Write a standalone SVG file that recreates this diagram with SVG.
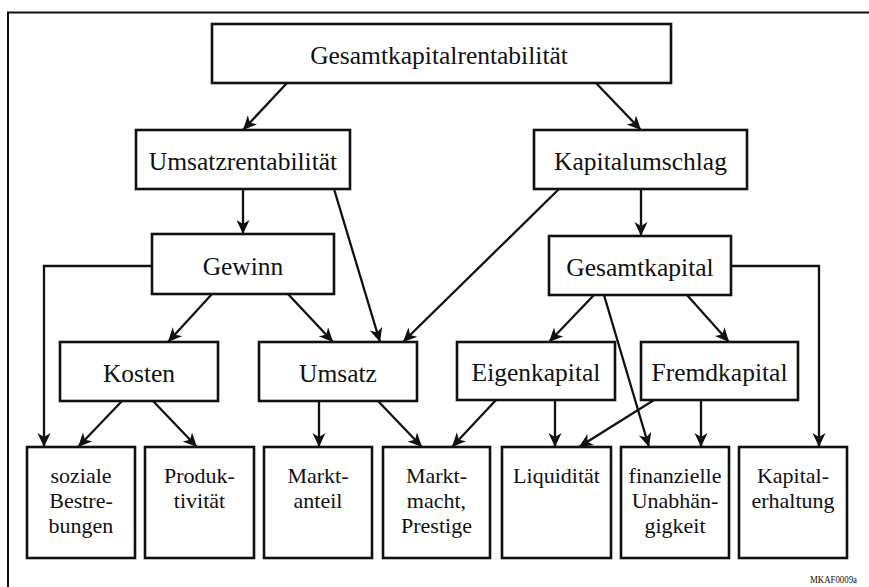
<svg xmlns="http://www.w3.org/2000/svg" width="869" height="587" viewBox="0 0 869 587">
  <style>
    .box { fill: #fff; stroke: #111; stroke-width: 2.6; }
    .lbl { font-family: "Liberation Serif", "DejaVu Serif", "Times New Roman", serif; font-size: 25.5px; fill: #111; text-anchor: middle; }
    .sm { font-family: "Liberation Serif", "DejaVu Serif", "Times New Roman", serif; font-size: 22px; fill: #111; text-anchor: middle; }
    .edge { fill: none; stroke: #111; stroke-width: 2.3; }
    .frame { fill: none; stroke: #111; stroke-width: 2; }
  </style>
  <defs>
    <marker id="arrow" markerUnits="userSpaceOnUse" markerWidth="16" markerHeight="14" refX="14" refY="6.5" orient="auto">
      <path d="M0,0 L14,6.5 L0,13 L4,6.5 Z" fill="#111"/>
    </marker>
  </defs>
  <rect width="869" height="587" fill="#fff"/>

  <!-- page frame: top and left rule only -->
  <path class="frame" d="M8,587 L8,12.5 L869,12.5"/>

  <!-- connectors -->
  <g id="connectors" class="edge">
    <line x1="287" y1="83" x2="243" y2="130" marker-end="url(#arrow)"/>
    <line x1="596" y1="83" x2="641" y2="130" marker-end="url(#arrow)"/>
    <line x1="243" y1="189" x2="243" y2="234" marker-end="url(#arrow)"/>
    <line x1="334" y1="189" x2="380" y2="342" marker-end="url(#arrow)"/>
    <line x1="559" y1="189" x2="403" y2="342" marker-end="url(#arrow)"/>
    <line x1="641" y1="189" x2="641" y2="236" marker-end="url(#arrow)"/>
    <polyline points="152,266 44,266 44,447" marker-end="url(#arrow)"/>
    <line x1="212" y1="294" x2="168" y2="342" marker-end="url(#arrow)"/>
    <line x1="288" y1="294" x2="333" y2="342" marker-end="url(#arrow)"/>
    <polyline points="731,266 819,266 819,447" marker-end="url(#arrow)"/>
    <line x1="594" y1="295" x2="549" y2="342" marker-end="url(#arrow)"/>
    <line x1="687" y1="295" x2="729" y2="342" marker-end="url(#arrow)"/>
    <line x1="604" y1="295" x2="649" y2="447" marker-end="url(#arrow)"/>
    <line x1="122" y1="401" x2="78" y2="447" marker-end="url(#arrow)"/>
    <line x1="153" y1="401" x2="197" y2="447" marker-end="url(#arrow)"/>
    <line x1="319" y1="401" x2="319" y2="447" marker-end="url(#arrow)"/>
    <line x1="378" y1="401" x2="422" y2="447" marker-end="url(#arrow)"/>
    <line x1="496" y1="400" x2="452" y2="447" marker-end="url(#arrow)"/>
    <line x1="555" y1="400" x2="555" y2="447" marker-end="url(#arrow)"/>
    <line x1="654" y1="400" x2="579" y2="447" marker-end="url(#arrow)"/>
    <line x1="701" y1="400" x2="701" y2="447" marker-end="url(#arrow)"/>
  </g>

  <!-- level 0 -->
  <g id="gesamtkapitalrentabilitaet">
    <rect class="box" x="212" y="24" width="459" height="59"/>
    <text class="lbl" x="439" y="64">Gesamtkapitalrentabilität</text>
  </g>

  <!-- level 1 -->
  <g id="umsatzrentabilitaet">
    <rect class="box" x="136" y="130" width="214" height="59"/>
    <text class="lbl" x="243" y="170">Umsatzrentabilität</text>
  </g>
  <g id="kapitalumschlag">
    <rect class="box" x="534" y="130" width="213" height="59"/>
    <text class="lbl" x="640.5" y="170">Kapitalumschlag</text>
  </g>

  <!-- level 2 -->
  <g id="gewinn">
    <rect class="box" x="152" y="234" width="182" height="60"/>
    <text class="lbl" x="243" y="275">Gewinn</text>
  </g>
  <g id="gesamtkapital">
    <rect class="box" x="549" y="236" width="182" height="59"/>
    <text class="lbl" x="640" y="276">Gesamtkapital</text>
  </g>

  <!-- level 3 -->
  <g id="kosten">
    <rect class="box" x="60" y="342" width="158" height="59"/>
    <text class="lbl" x="139" y="382">Kosten</text>
  </g>
  <g id="umsatz">
    <rect class="box" x="259" y="342" width="158" height="59"/>
    <text class="lbl" x="338" y="382">Umsatz</text>
  </g>
  <g id="eigenkapital">
    <rect class="box" x="457" y="342" width="158" height="58"/>
    <text class="lbl" x="536" y="381">Eigenkapital</text>
  </g>
  <g id="fremdkapital">
    <rect class="box" x="641" y="342" width="157" height="58"/>
    <text class="lbl" x="719.5" y="381">Fremdkapital</text>
  </g>

  <!-- level 4: goals -->
  <g id="soziale-bestrebungen">
    <rect class="box" x="27" y="447" width="108" height="111"/>
    <text class="sm" x="81" y="483">soziale</text>
    <text class="sm" x="81" y="508">Bestre-</text>
    <text class="sm" x="81" y="533">bungen</text>
  </g>
  <g id="produktivitaet">
    <rect class="box" x="145" y="447" width="109" height="111"/>
    <text class="sm" x="199.5" y="483">Produk-</text>
    <text class="sm" x="199.5" y="508">tivität</text>
  </g>
  <g id="marktanteil">
    <rect class="box" x="264" y="447" width="108" height="111"/>
    <text class="sm" x="318" y="483">Markt-</text>
    <text class="sm" x="318" y="508">anteil</text>
  </g>
  <g id="marktmacht-prestige">
    <rect class="box" x="383" y="447" width="107" height="111"/>
    <text class="sm" x="436.5" y="483">Markt-</text>
    <text class="sm" x="436.5" y="508">macht,</text>
    <text class="sm" x="436.5" y="533">Prestige</text>
  </g>
  <g id="liquiditaet">
    <rect class="box" x="502" y="447" width="109" height="111"/>
    <text class="sm" x="556.5" y="483">Liquidität</text>
  </g>
  <g id="finanzielle-unabhaengigkeit">
    <rect class="box" x="621" y="447" width="108" height="111"/>
    <text class="sm" x="675" y="483">finanzielle</text>
    <text class="sm" x="675" y="508">Unabhän-</text>
    <text class="sm" x="675" y="533">gigkeit</text>
  </g>
  <g id="kapitalerhaltung">
    <rect class="box" x="739" y="447" width="108" height="111"/>
    <text class="sm" x="793" y="483">Kapital-</text>
    <text class="sm" x="793" y="508">erhaltung</text>
  </g>

  <text x="810" y="583" font-family="'Liberation Serif', serif" font-size="10" textLength="47" lengthAdjust="spacingAndGlyphs" fill="#111">MKAF0009a</text>
</svg>
